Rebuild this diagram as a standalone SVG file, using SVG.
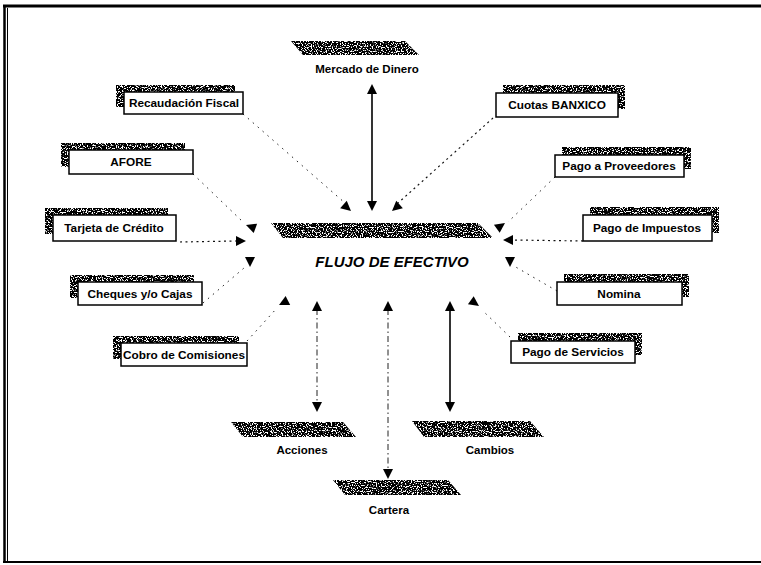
<svg xmlns="http://www.w3.org/2000/svg" xmlns:xlink="http://www.w3.org/1999/xlink" width="761" height="565" viewBox="0 0 761 565">
  <defs>
    <!-- speckled fill used for the shaded bands and box shadows -->
    <filter id="grain" x="0" y="0" width="1" height="1" filterUnits="objectBoundingBox">
      <feTurbulence type="fractalNoise" baseFrequency="0.8" numOctaves="1" seed="7" result="n"/>
      <feColorMatrix in="n" type="matrix" values="0 0 0 0 0  0 0 0 0 0  0 0 0 0 0  14 0 0 0 -5.6" result="m"/>
      <feComposite in="m" in2="SourceGraphic" operator="in"/>
    </filter>
    <path id="ah" d="M0,0 L-10,-5 L-10,5 Z" fill="#000"/>
    <style>
      .box { fill: #fff; stroke: #000; stroke-width: 1.5; }
      .shadow { fill: #000; filter: url(#grain); }
      .band { fill: #000; filter: url(#grain); }
      .lbl { font-family: "Liberation Sans", Arial, sans-serif; font-weight: bold; font-size: 11.8px; fill: #000; text-anchor: middle; }
      .sub { font-family: "Liberation Sans", Arial, sans-serif; font-weight: bold; font-size: 11.5px; fill: #000; text-anchor: middle; }
      .title { font-family: "Liberation Sans", Arial, sans-serif; font-weight: bold; font-style: italic; font-size: 15px; fill: #000; text-anchor: middle; }
      .dot { fill: none; stroke: #222; stroke-width: 1; stroke-dasharray: 1.5 5; }
      .dotd { fill: none; stroke: #111; stroke-width: 1.2; stroke-dasharray: 2 3.5; }
      .dashdot { fill: none; stroke: #222; stroke-width: 1; stroke-dasharray: 6 3 1.5 3; }
      .solid { fill: none; stroke: #000; stroke-width: 1.6; }
      .frame { fill: none; stroke: #000; }
    </style>
  </defs>

  <rect width="761" height="565" fill="#fff"/>

  <!-- page frame -->
  <g id="frame">
    <line class="frame" x1="3" y1="6" x2="761" y2="6" stroke-width="3"/>
    <line class="frame" x1="4.5" y1="5" x2="4.5" y2="563" stroke-width="2.5"/>
    <line class="frame" x1="7.5" y1="8" x2="7.5" y2="562" stroke-width="1"/>
    <line class="frame" x1="3" y1="562" x2="761" y2="562" stroke-width="2"/>
  </g>

  <!-- connectors -->
  <g id="connectors">
    <line class="solid" x1="372" y1="90" x2="372" y2="204"/>
    <use xlink:href="#ah" transform="translate(372,84) rotate(-90)"/>
    <use xlink:href="#ah" transform="translate(372,211) rotate(90)"/>

    <line class="dot" x1="243" y1="114" x2="345" y2="203"/>
    <use xlink:href="#ah" transform="translate(351,211) rotate(41)"/>

    <line class="dotd" x1="493" y1="118" x2="398" y2="203"/>
    <use xlink:href="#ah" transform="translate(392,211) rotate(139)"/>

    <line class="dot" x1="193" y1="174" x2="243" y2="222"/>
    <use xlink:href="#ah" transform="translate(246,225) rotate(200)"/>

    <line class="dotd" x1="180" y1="242" x2="236" y2="241"/>
    <use xlink:href="#ah" transform="translate(246,241) rotate(0)"/>

    <line class="dot" x1="203" y1="303" x2="244" y2="268"/>
    <use xlink:href="#ah" transform="translate(250,267) rotate(90)"/>

    <line class="dot" x1="247" y1="341" x2="277" y2="308"/>
    <use xlink:href="#ah" transform="translate(279,305) rotate(153)"/>

    <line class="dashdot" x1="317" y1="309" x2="317" y2="404"/>
    <use xlink:href="#ah" transform="translate(317,301) rotate(-90)"/>
    <use xlink:href="#ah" transform="translate(317,412) rotate(90)"/>

    <line class="dashdot" x1="388" y1="309" x2="388" y2="471"/>
    <use xlink:href="#ah" transform="translate(388,301) rotate(-90)"/>
    <use xlink:href="#ah" transform="translate(388,479) rotate(90)"/>

    <line class="solid" x1="450" y1="309" x2="450" y2="404"/>
    <use xlink:href="#ah" transform="translate(450,301) rotate(-90)"/>
    <use xlink:href="#ah" transform="translate(450,412) rotate(90)"/>

    <line class="dot" x1="510" y1="337" x2="482" y2="310"/>
    <use xlink:href="#ah" transform="translate(479,306) rotate(35)"/>

    <line class="dot" x1="555" y1="177" x2="508" y2="222"/>
    <use xlink:href="#ah" transform="translate(505,223) rotate(-35)"/>

    <line class="dotd" x1="583" y1="241" x2="513" y2="240"/>
    <use xlink:href="#ah" transform="translate(503,240) rotate(180)"/>

    <line class="dot" x1="557" y1="291" x2="514" y2="266"/>
    <use xlink:href="#ah" transform="translate(510,267) rotate(90)"/>
  </g>

  <!-- central node -->
  <g id="flujo">
    <path class="band" d="M271,223 L478,223 L493,238 L283,238 Z"/>
    <text class="title" x="392" y="267">FLUJO DE EFECTIVO</text>
  </g>

  <!-- money market / investment nodes -->
  <g id="mercado">
    <path class="band" d="M291,41 L405,41 L419,55 L303,55 Z"/>
    <text class="sub" x="367" y="73">Mercado de Dinero</text>
  </g>
  <g id="acciones">
    <path class="band" d="M231,422 L343,422 L356,437 L243,437 Z"/>
    <text class="sub" x="302" y="454">Acciones</text>
  </g>
  <g id="cambios">
    <path class="band" d="M412,421 L530,421 L544,437 L424,437 Z"/>
    <text class="sub" x="490" y="454">Cambios</text>
  </g>
  <g id="cartera">
    <path class="band" d="M333,480 L448,480 L461,495 L345,495 Z"/>
    <text class="sub" x="389" y="514">Cartera</text>
  </g>

  <!-- left-hand boxes -->
  <g id="recaudacion">
    <rect class="shadow" x="116" y="85" width="119" height="22"/>
    <rect class="box" x="124" y="92" width="119" height="22"/>
    <text class="lbl" x="184" y="107">Recaudación Fiscal</text>
  </g>
  <g id="afore">
    <rect class="shadow" x="61" y="143" width="124" height="24"/>
    <rect class="box" x="69" y="150" width="124" height="24"/>
    <text class="lbl" x="131" y="166">AFORE</text>
  </g>
  <g id="tarjeta">
    <rect class="shadow" x="45" y="208" width="123" height="26"/>
    <rect class="box" x="53" y="215" width="123" height="26"/>
    <text class="lbl" x="114" y="232">Tarjeta de Crédito</text>
  </g>
  <g id="cheques">
    <rect class="shadow" x="70" y="275" width="124" height="23"/>
    <rect class="box" x="78" y="282" width="124" height="23"/>
    <text class="lbl" x="140" y="298">Cheques y/o Cajas</text>
  </g>
  <g id="cobro">
    <rect class="shadow" x="113" y="336" width="126" height="23"/>
    <rect class="box" x="121" y="343" width="126" height="23"/>
    <text class="lbl" x="184" y="359">Cobro de Comisiones</text>
  </g>

  <!-- right-hand boxes -->
  <g id="cuotas">
    <rect class="shadow" x="503" y="85" width="122" height="24"/>
    <rect class="box" x="496" y="93" width="122" height="24"/>
    <text class="lbl" x="557" y="109">Cuotas BANXICO</text>
  </g>
  <g id="proveedores">
    <rect class="shadow" x="562" y="147" width="129" height="22"/>
    <rect class="box" x="555" y="155" width="129" height="22"/>
    <text class="lbl" x="619" y="170">Pago a Proveedores</text>
  </g>
  <g id="impuestos">
    <rect class="shadow" x="590" y="207" width="129" height="26"/>
    <rect class="box" x="583" y="215" width="129" height="26"/>
    <text class="lbl" x="647" y="232">Pago de Impuestos</text>
  </g>
  <g id="nomina">
    <rect class="shadow" x="564" y="274" width="125" height="23"/>
    <rect class="box" x="557" y="282" width="125" height="23"/>
    <text class="lbl" x="619" y="298">Nomina</text>
  </g>
  <g id="servicios">
    <rect class="shadow" x="518" y="333" width="124" height="22"/>
    <rect class="box" x="511" y="341" width="124" height="22"/>
    <text class="lbl" x="573" y="356">Pago de Servicios</text>
  </g>
</svg>
